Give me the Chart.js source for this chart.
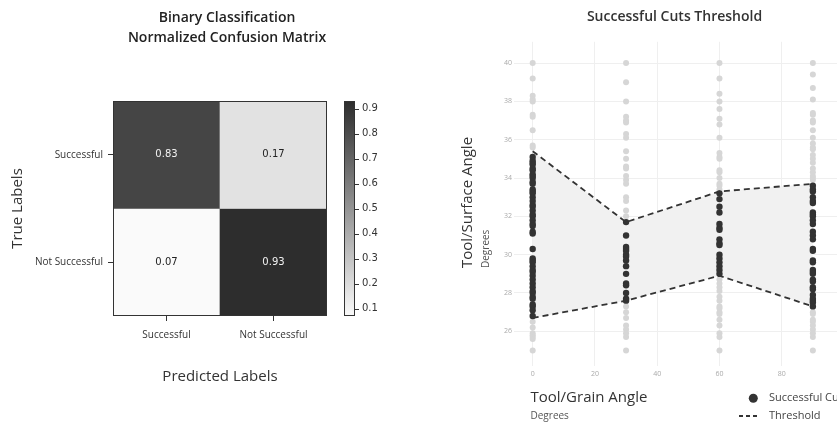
<!DOCTYPE html>
<html>
<head>
<meta charset="utf-8">
<script src="https://cdn.jsdelivr.net/npm/chart.js@4.4.0/dist/chart.umd.min.js"></script>
<style>
  html, body { margin: 0; padding: 0; background: #fff; }
  body { width: 837px; height: 426px; position: relative; overflow: hidden; }
  canvas { position: absolute; top: 0; }
  #matrixChart { left: 0; }
  #cutsChart { left: 440px; }
</style>
</head>
<body>
<canvas id="matrixChart" width="454" height="426"></canvas>
<canvas id="cutsChart" width="408" height="426"></canvas>
<script>
// confusion matrix
const predictedLabels = ['Successful', 'Not Successful'];
const trueLabels = ['Successful', 'Not Successful'];
const rowSuccessful = [0.83, 0.17];
const rowNotSuccessful = [0.07, 0.93];
const colorbarTicks = [0.1, 0.2, 0.3, 0.4, 0.5, 0.6, 0.7, 0.8, 0.9];

// cuts threshold
const grainAngles = [0, 30, 60, 90];
const upperThreshold = [35.4, 31.7, 33.3, 33.7];
const lowerThreshold = [26.7, 27.6, 28.9, 27.3];
const successAt0 = [35.1, 34.9, 34.8, 34.7, 34.5, 34.4, 34.2, 34.1, 34.0, 33.8, 33.7, 33.4, 33.3, 33.2, 33.0,
    32.8, 32.6, 32.5, 32.3, 32.1, 32.0, 31.8, 31.6, 31.5, 31.2, 31.1, 30.3, 29.8, 29.7, 29.6, 29.4, 29.2,
    29.1, 28.9, 28.7, 28.5, 28.3, 28.1, 28.0, 27.8, 27.7, 27.4, 27.3, 27.1, 26.8];
const failAt0 = [40.0, 39.2, 38.3, 38.1, 38.0, 37.3, 37.2, 36.5, 35.7, 35.6, 26.5, 26.2, 25.9, 25.8, 25.7, 25.6, 25.0];
const successAt30 = [31.7, 31.0, 30.4, 30.3, 30.2, 30.0, 29.9, 29.7, 29.4, 29.0, 28.5, 28.4, 28.0, 27.7, 27.6];
const failAt30 = [40.0, 39.0, 38.0, 37.2, 37.0, 36.9, 36.3, 36.1, 35.4, 35.0, 34.6, 34.5, 34.1, 33.9, 33.7, 33.0,
    32.8, 32.3, 32.0, 27.3, 27.0, 26.7, 26.3, 26.1, 25.9, 25.7, 25.0];
const successAt60 = [33.2, 32.9, 32.5, 32.2, 31.6, 31.4, 31.3, 30.8, 30.6, 30.5, 30.0, 29.8, 29.6, 29.4, 29.2, 29.0];
const failAt60 = [40.0, 39.2, 38.4, 38.0, 37.6, 37.1, 36.8, 36.1, 35.3, 35.1, 35.0, 34.4, 34.3, 34.0, 33.7, 33.6,
    33.4, 28.7, 28.5, 28.3, 28.1, 27.8, 27.6, 27.3, 27.2, 27.0, 26.9, 26.6, 26.3, 25.9, 25.7, 25.0];
const successAt90 = [33.6, 33.4, 33.3, 33.0, 32.8, 32.7, 32.2, 32.1, 32.0, 31.8, 31.6, 31.2, 31.0, 30.8, 30.3,
    30.2, 29.7, 29.6, 29.2, 29.1, 29.0, 28.7, 28.6, 28.3, 28.2, 27.9, 27.7, 27.6, 27.5, 27.3];
const failAt90 = [40.0, 39.4, 38.7, 38.1, 37.4, 37.3, 37.0, 36.9, 36.5, 36.1, 35.8, 35.6, 35.5, 35.2, 35.0, 34.8,
    34.5, 34.3, 34.1, 34.0, 33.9, 27.0, 26.9, 26.6, 26.5, 26.3, 26.1, 25.9, 25.7, 25.0];
const cutXTicks = [0, 20, 40, 60, 80];
const cutYTicks = [26, 28, 30, 32, 34, 36, 38, 40];

Chart.defaults.font.family = '"Open Sans", sans-serif';

const allCells = rowSuccessful.concat(rowNotSuccessful);
const vMin = Math.min(...allCells);
const vMax = Math.max(...allCells);

function shade(v) {
    const t = (v - vMin) / (vMax - vMin);
    const g = Math.round(250 - t * 205);
    return 'rgb(' + g + ',' + g + ',' + g + ')';
}

function points(x, ys) {
    return ys.map(y => ({x: x, y: y}));
}

// cell numbers, frame and colorbar
const matrixDecor = {
    id: 'matrixDecor',
    afterDatasetsDraw(chart) {
        const {ctx, chartArea} = chart;
        ctx.save();
        ctx.font = '10px "DejaVu Sans"';
        ctx.textAlign = 'center';
        ctx.textBaseline = 'middle';
        chart.data.datasets.forEach((ds, di) => {
            chart.getDatasetMeta(di).data.forEach((bar, i) => {
                const v = ds.values[i];
                const c = bar.getCenterPoint();
                ctx.fillStyle = v > 0.5 ? '#f2f2f2' : '#222';
                ctx.fillText(v.toFixed(2), c.x, c.y);
            });
        });
        ctx.strokeStyle = '#333';
        ctx.lineWidth = 1;
        ctx.strokeRect(chartArea.left + 0.5, chartArea.top + 0.5, chartArea.width - 1, chartArea.height - 1);

        const s = chart.scales.shade;
        const x0 = s.left + 17, w = 11;
        const grad = ctx.createLinearGradient(0, s.bottom, 0, s.top);
        grad.addColorStop(0, shade(s.min));
        grad.addColorStop(1, shade(s.max));
        ctx.fillStyle = grad;
        ctx.fillRect(x0, s.top, w, s.bottom - s.top);
        ctx.strokeRect(x0 + 0.5, s.top + 0.5, w - 1, s.bottom - s.top - 1);
        ctx.beginPath();
        s.ticks.forEach(t => {
            const y = Math.round(s.getPixelForValue(t.value)) + 0.5;
            ctx.moveTo(x0 + w, y);
            ctx.lineTo(x0 + w + 4, y);
        });
        ctx.stroke();
        ctx.restore();
    }
};

new Chart(document.getElementById('matrixChart'), {
    type: 'bar',
    data: {
        labels: predictedLabels,
        datasets: [
            {
                label: trueLabels[0],
                data: rowSuccessful.map(() => [1, 2]),
                values: rowSuccessful,
                backgroundColor: rowSuccessful.map(shade)
            },
            {
                label: trueLabels[1],
                data: rowNotSuccessful.map(() => [0, 1]),
                values: rowNotSuccessful,
                backgroundColor: rowNotSuccessful.map(shade)
            }
        ]
    },
    options: {
        responsive: false,
        animation: false,
        grouped: false,
        barPercentage: 1,
        categoryPercentage: 1,
        borderWidth: 0,
        layout: {padding: 0},
        plugins: {
            legend: {display: false},
            tooltip: {enabled: false},
            title: {
                display: true,
                text: ['Binary Classification', 'Normalized Confusion Matrix'],
                color: '#222',
                font: {size: 14, weight: '600', lineHeight: 20 / 14},
                padding: {top: 8, bottom: 53}
            }
        },
        scales: {
            x: {
                grid: {offset: false, drawOnChartArea: false, tickLength: 5, color: '#333'},
                border: {display: false},
                ticks: {color: '#333', font: {size: 10}, padding: 8},
                title: {
                    display: true,
                    text: 'Predicted Labels',
                    color: '#333',
                    font: {size: 15},
                    padding: {top: 0, bottom: 40}
                },
                afterFit: s => { s.height = 110; }
            },
            y: {
                min: 0,
                max: 2,
                afterBuildTicks: s => { s.ticks = [{value: 0.5}, {value: 1.5}]; },
                grid: {drawOnChartArea: false, tickLength: 5, color: '#333'},
                border: {display: false},
                ticks: {
                    color: '#333',
                    font: {size: 10},
                    padding: 5,
                    callback: v => (v > 1 ? trueLabels[0] : trueLabels[1])
                },
                title: {
                    display: true,
                    text: 'True Labels',
                    color: '#333',
                    font: {size: 15},
                    padding: {top: 9, bottom: 0}
                },
                afterFit: s => { s.width = 113; }
            },
            shade: {
                type: 'linear',
                position: 'right',
                min: vMin,
                max: vMax,
                afterBuildTicks: s => { s.ticks = colorbarTicks.map(v => ({value: v})); },
                grid: {display: false, drawTicks: false},
                border: {display: false},
                ticks: {
                    color: '#333',
                    font: {size: 10, family: '"DejaVu Sans"'},
                    padding: 35,
                    callback: v => v.toFixed(1)
                },
                afterFit: s => { s.width = 127; }
            }
        }
    },
    plugins: [matrixDecor]
});

// axis titles and legend of the cuts chart
const cutsNotes = {
    id: 'cutsNotes',
    afterDraw(chart) {
        const {ctx} = chart;
        ctx.save();
        ctx.textBaseline = 'middle';
        ctx.textAlign = 'left';
        ctx.fillStyle = '#333';
        ctx.font = '15px "Open Sans"';
        ctx.fillText('Tool/Grain Angle', 90.5, 397.5);
        ctx.font = '10px "Open Sans"';
        ctx.fillStyle = '#555';
        ctx.fillText('Degrees', 90.5, 416);

        ctx.save();
        ctx.translate(28, 268);
        ctx.rotate(-Math.PI / 2);
        ctx.fillStyle = '#333';
        ctx.font = '15px "Open Sans"';
        ctx.fillText('Tool/Surface Angle', 0, 0);
        ctx.restore();
        ctx.save();
        ctx.translate(46.5, 268);
        ctx.rotate(-Math.PI / 2);
        ctx.fillStyle = '#555';
        ctx.font = '10px "Open Sans"';
        ctx.fillText('Degrees', 0, 0);
        ctx.restore();

        // legend
        ctx.fillStyle = '#333';
        ctx.beginPath();
        ctx.arc(313.3, 398.3, 4.5, 0, Math.PI * 2);
        ctx.fill();
        ctx.strokeStyle = '#333';
        ctx.lineWidth = 1.8;
        ctx.setLineDash([4, 3]);
        ctx.beginPath();
        ctx.moveTo(299, 416);
        ctx.lineTo(319, 416);
        ctx.stroke();
        ctx.fillStyle = '#444';
        ctx.font = '11px "Open Sans"';
        ctx.fillText('Successful Cut', 329, 398);
        ctx.fillText('Threshold', 329, 416);
        ctx.restore();
    }
};

const successPoints = [].concat(points(0, successAt0), points(30, successAt30), points(60, successAt60), points(90, successAt90));
const failPoints = [].concat(points(0, failAt0), points(30, failAt30), points(60, failAt60), points(90, failAt90));

new Chart(document.getElementById('cutsChart'), {
    type: 'scatter',
    data: {
        datasets: [
            {
                label: 'Upper threshold',
                data: grainAngles.map((x, i) => ({x: x, y: upperThreshold[i]})),
                showLine: true,
                borderColor: '#333',
                borderWidth: 1.8,
                borderDash: [6, 4],
                pointRadius: 0,
                fill: false
            },
            {
                label: 'Threshold',
                data: grainAngles.map((x, i) => ({x: x, y: lowerThreshold[i]})),
                showLine: true,
                borderColor: '#333',
                borderWidth: 1.8,
                borderDash: [6, 4],
                pointRadius: 0,
                fill: '-1',
                backgroundColor: '#f1f1f1'
            },
            {
                label: 'Successful Cut',
                data: successPoints,
                pointRadius: 3.2,
                pointBackgroundColor: '#333',
                pointBorderWidth: 0
            },
            {
                label: 'Unsuccessful Cut',
                data: failPoints,
                pointRadius: 3,
                pointBackgroundColor: '#d6d6d6',
                pointBorderWidth: 0
            }
        ]
    },
    options: {
        responsive: false,
        animation: false,
        layout: {padding: {left: 61, right: 0, top: 0, bottom: 0}},
        plugins: {
            legend: {display: false},
            tooltip: {enabled: false},
            filler: {drawTime: 'beforeDatasetsDraw'},
            title: {
                display: true,
                text: 'Successful Cuts Threshold',
                color: '#333',
                font: {size: 14, weight: '600', lineHeight: 1.2},
                padding: {top: 9, bottom: 16}
            }
        },
        scales: {
            x: {
                type: 'linear',
                min: -6,
                max: 100,
                afterBuildTicks: s => { s.ticks = cutXTicks.map(v => ({value: v})); },
                grid: {color: '#efefef', drawTicks: false},
                border: {display: false},
                ticks: {color: '#aaa', font: {size: 7}, padding: 4},
                afterFit: s => { s.height = 60; }
            },
            y: {
                type: 'linear',
                min: 24.19,
                max: 41.11,
                afterBuildTicks: s => { s.ticks = cutYTicks.map(v => ({value: v})); },
                grid: {color: '#efefef', drawTicks: false},
                border: {display: false},
                ticks: {color: '#aaa', font: {size: 7}, padding: 2},
                afterFit: s => { s.width = 13; }
            }
        }
    },
    plugins: [cutsNotes]
});
</script>
</body>
</html>
